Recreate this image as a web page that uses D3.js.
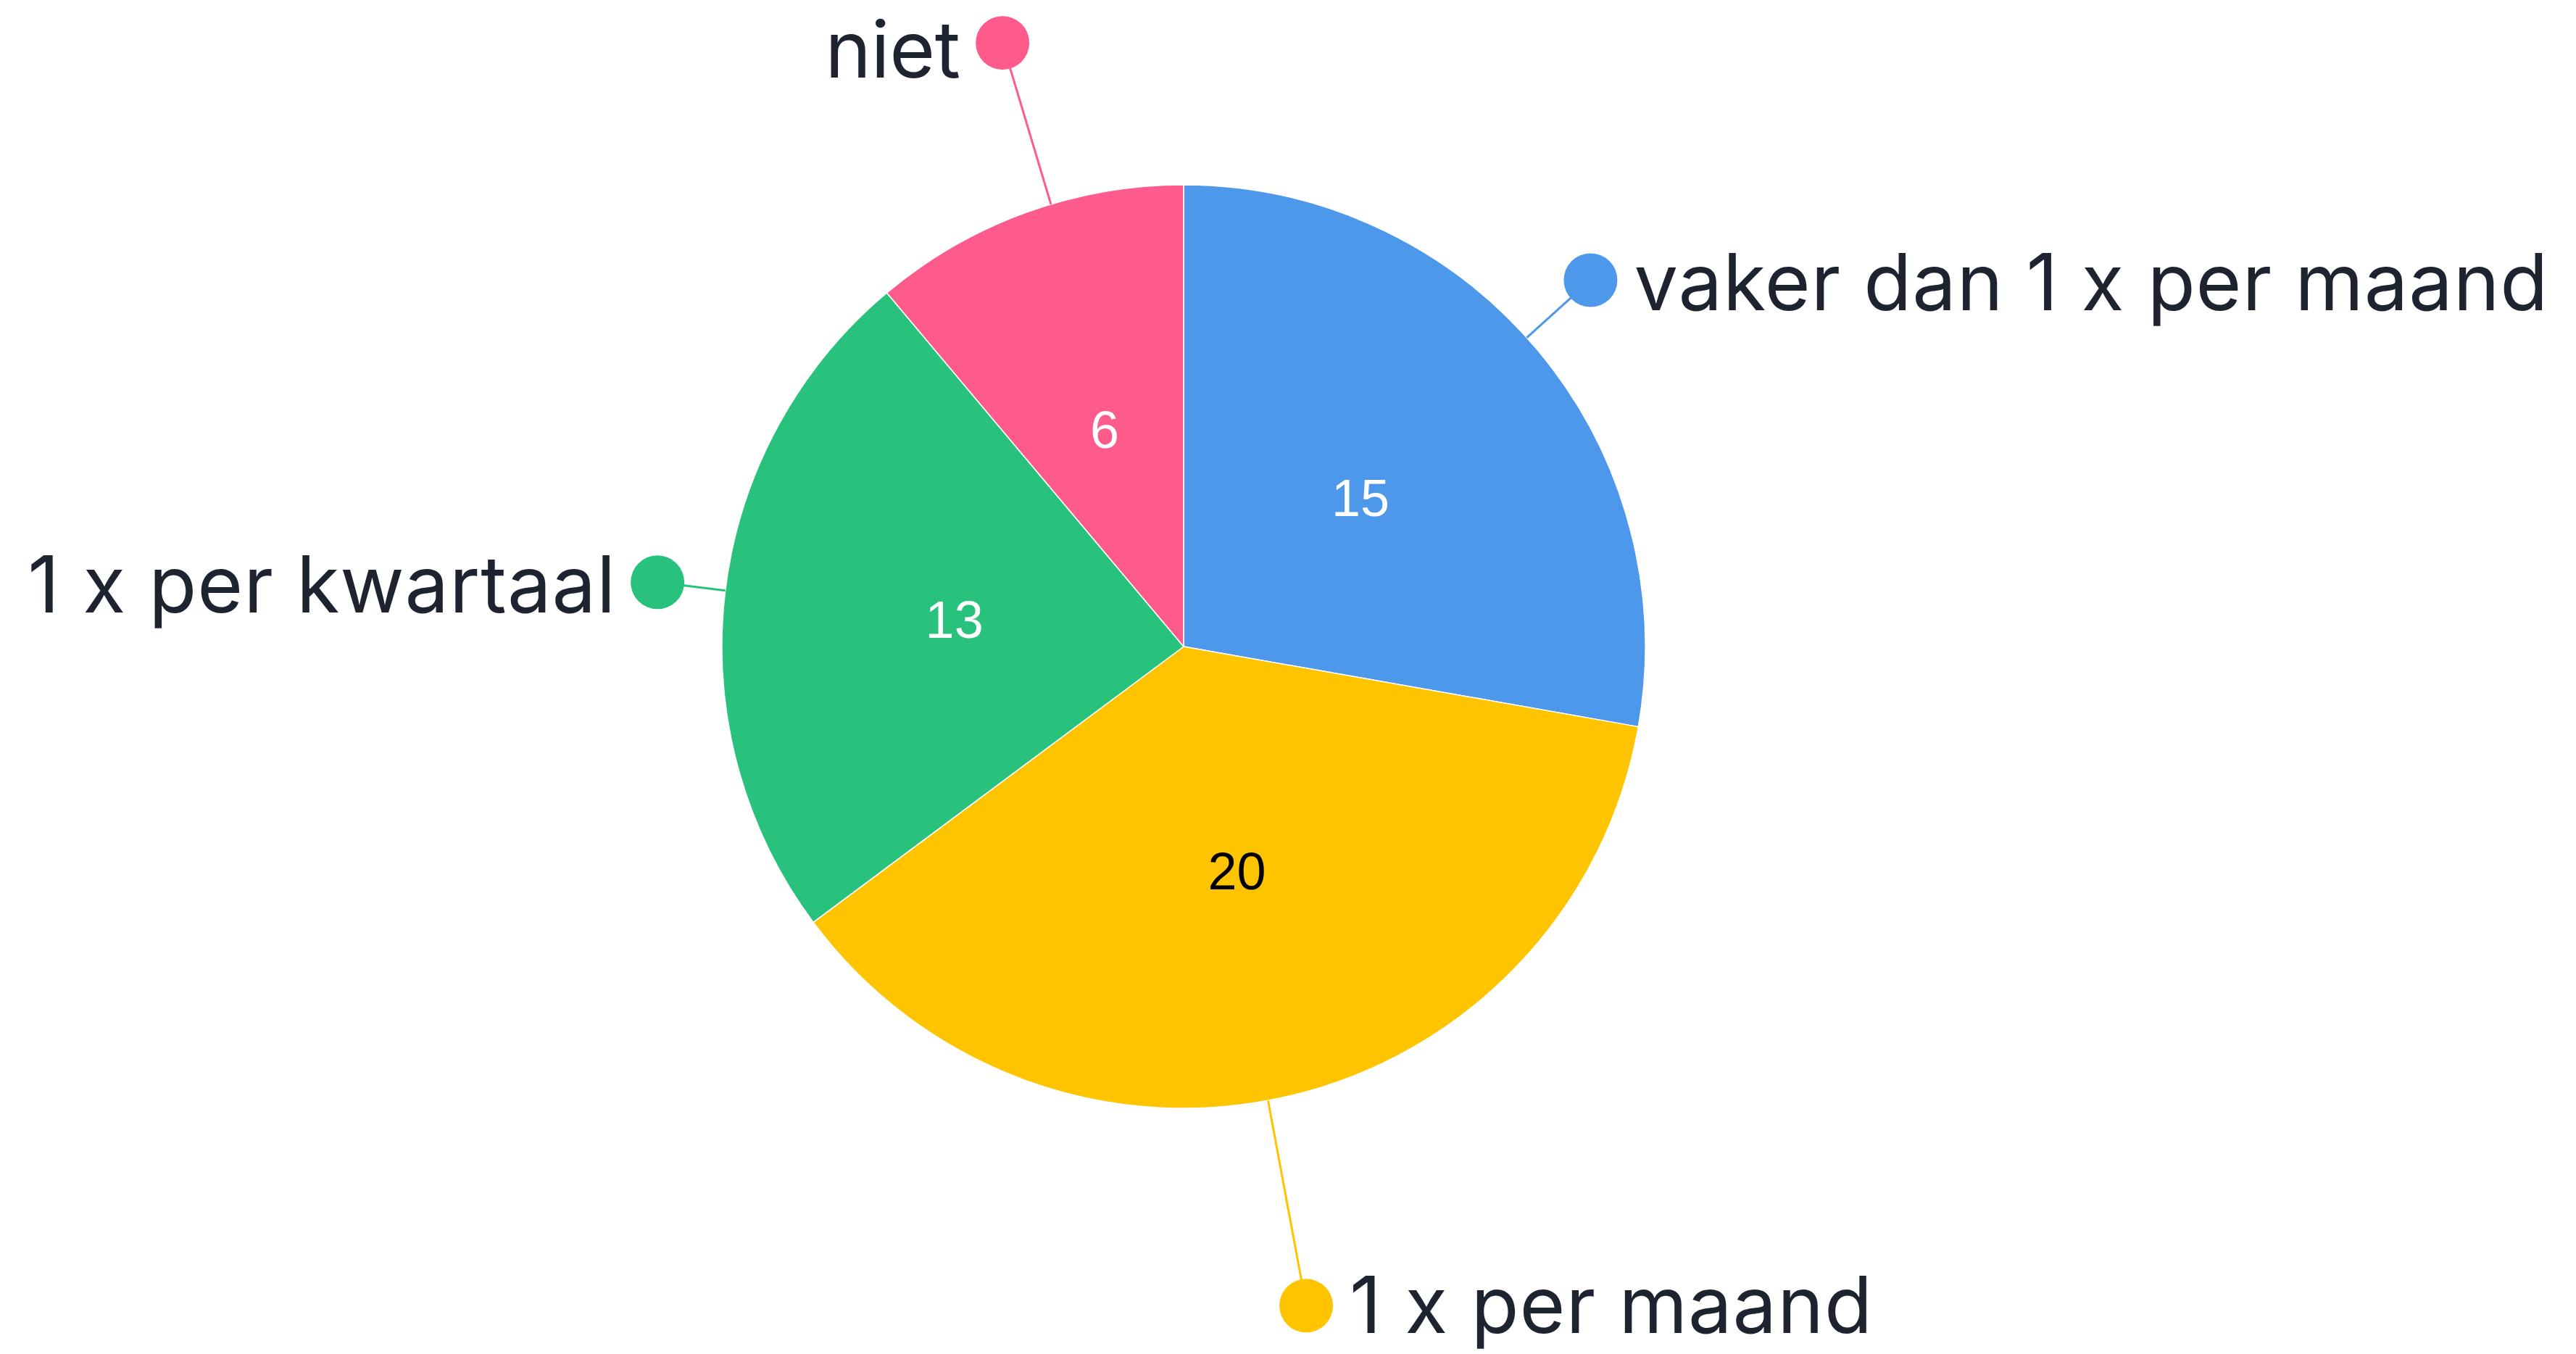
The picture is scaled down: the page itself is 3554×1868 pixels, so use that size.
<!DOCTYPE html>
<html>
<head>
<meta charset="utf-8">
<script src="https://cdn.jsdelivr.net/npm/d3@7"></script>
<style>
  html, body { margin: 0; padding: 0; background: #ffffff; }
  svg { display: block; }
</style>
</head>
<body>
<svg id="chart" width="3554" height="1868"></svg>
<script>
// ---- data ----
const categories = ["vaker dan 1 x per maand", "1 x per maand", "1 x per kwartaal", "niet"];
const values = [15, 20, 13, 6];
const colors = ["#4E98EC", "#FFC400", "#29C27D", "#FF5A8C"];
const valueTextColors = ["#ffffff", "#000000", "#ffffff", "#ffffff"];

// ---- layout (label placement, relative to pie radius) ----
const labelRadius = [1.186, 1.452, 1.148, 1.365];
const labelAngleShift = [-2.0, 2.8, 0.3, 3.3]; // degrees
const labelSide = ["right", "right", "left", "left"];
const labelWidths = [1261, 721, 811, 187];
const labelBaseline = [42, 38, 42, 48];

const W = 3554, H = 1868;
const cx = 1633, cy = 892, R = 637;
const svg = d3.select("#chart");
const g = svg.append("g").attr("transform", `translate(${cx},${cy})`);

const data = categories.map((c, i) => ({ name: c, value: values[i], i }));
const pie = d3.pie().value(d => d.value).sort(null);
const arcs = pie(data);
const arc = d3.arc().innerRadius(0).outerRadius(R);
const labelArc = d3.arc().innerRadius(R * 0.5).outerRadius(R * 0.5);

g.selectAll("path.slice")
  .data(arcs)
  .join("path")
  .attr("class", "slice")
  .attr("d", arc)
  .attr("fill", d => colors[d.data.i])
  .attr("stroke", "#ffffff")
  .attr("stroke-width", 1.5)
  .attr("stroke-linejoin", "round");

// value labels
g.selectAll("text.val")
  .data(arcs)
  .join("text")
  .attr("class", "val")
  .attr("transform", d => `translate(${labelArc.centroid(d)})`)
  .attr("text-anchor", "middle")
  .attr("dominant-baseline", "central")
  .attr("font-family", "'Liberation Sans', Arial, sans-serif")
  .attr("font-size", 72)
  .attr("fill", d => valueTextColors[d.data.i])
  .text(d => d.data.value);

// outside labels
function pt(angleRad, r) {
  return [Math.sin(angleRad) * r, -Math.cos(angleRad) * r];
}
const outer = g.selectAll("g.outer")
  .data(arcs)
  .join("g")
  .attr("class", "outer");

outer.each(function(d) {
  const i = d.data.i;
  const mid = (d.startAngle + d.endAngle) / 2 + labelAngleShift[i] * Math.PI / 180;
  const p0 = pt(mid, R);
  const p1 = pt(mid, R * labelRadius[i]);
  const sel = d3.select(this);
  sel.append("line")
    .attr("x1", p0[0]).attr("y1", p0[1])
    .attr("x2", p1[0]).attr("y2", p1[1])
    .attr("stroke", colors[i])
    .attr("stroke-width", 3);
  sel.append("circle")
    .attr("cx", p1[0]).attr("cy", p1[1])
    .attr("r", 37)
    .attr("fill", colors[i]);
  const right = labelSide[i] === "right";
  sel.append("text")
    .attr("x", p1[0] + (right ? 60 : -58))
    .attr("y", p1[1] + labelBaseline[i])
    .attr("text-anchor", right ? "start" : "end")
    .attr("font-family", "Inter, 'Noto Sans', sans-serif")
    .attr("font-size", 108)
    .attr("fill", "#1E2330")
    .attr("textLength", labelWidths[i])
    .attr("lengthAdjust", "spacing")
    .text(d.data.name);
});
</script>
</body>
</html>
